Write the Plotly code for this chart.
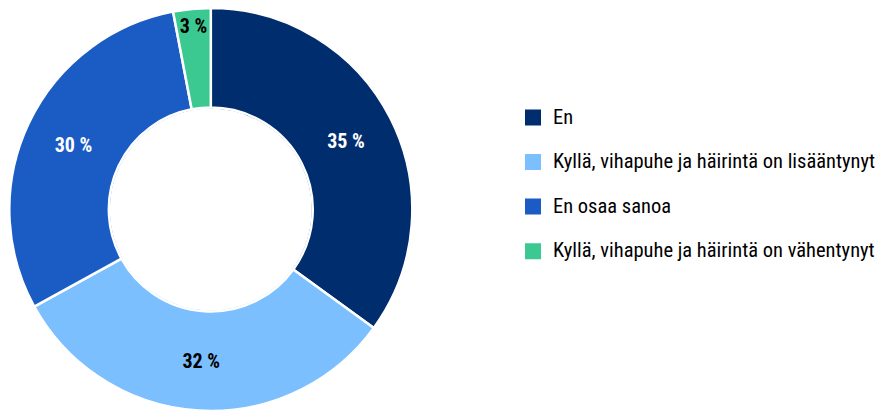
import plotly.graph_objects as go

categories = [
    "En",
    "Kyllä, vihapuhe ja häirintä on lisääntynyt",
    "En osaa sanoa",
    "Kyllä, vihapuhe ja häirintä on vähentynyt",
]
values = [35, 32, 30, 3]
colors = ["#002d6e", "#7cbfff", "#1a5cc4", "#3cc891"]
text_colors = ["#ffffff", "#000000", "#ffffff", "#000000"]

FONT = "Roboto Condensed, Roboto, sans-serif"
W, H = 877, 412

# donut geometry (pixels)
x0, x1, y0, y1 = 9.3, 412.3, 8.0, 411.0
R = (y1 - y0) / 2
HOLE = 0.506

# legend labels: visible text at 20.5px, blank second line for row spacing
legend_labels = ['<span style="font-size:20.5px">%s</span><br> ' % c for c in categories]

fig = go.Figure()

# underlying donut that carries the legend (stroke in slice colour -> larger legend squares)
ins = 2.0
fig.add_trace(
    go.Pie(
        labels=legend_labels,
        values=values,
        sort=False,
        direction="clockwise",
        rotation=0,
        hole=(HOLE * R + 1) / (R - ins),
        marker=dict(colors=colors, line=dict(color=colors, width=4)),
        textinfo="none",
        domain=dict(x=[(x0 + ins) / W, (x1 - ins) / W], y=[1 - (y1 - ins) / H, 1 - (y0 + ins) / H]),
        hoverinfo="skip",
        showlegend=True,
    )
)

# visible donut with white separators and value labels
fig.add_trace(
    go.Pie(
        labels=legend_labels,
        values=values,
        sort=False,
        direction="clockwise",
        rotation=0,
        hole=HOLE,
        marker=dict(colors=colors, line=dict(color="#ffffff", width=2.5)),
        texttemplate="<b>%{value} %</b>",
        textposition="inside",
        insidetextorientation="horizontal",
        textfont=dict(family=FONT, size=20, color=text_colors),
        domain=dict(x=[x0 / W, x1 / W], y=[1 - y1 / H, 1 - y0 / H]),
        hovertemplate="%{value} %<extra></extra>",
        showlegend=False,
    )
)

fig.update_layout(
    width=W,
    height=H,
    margin=dict(l=0, r=0, t=0, b=0, autoexpand=False),
    paper_bgcolor="#ffffff",
    plot_bgcolor="#ffffff",
    font=dict(family=FONT, color="#000000"),
    uniformtext=dict(minsize=20, mode="show"),
    legend=dict(
        x=513 / W,
        xanchor="left",
        y=1 - 100.5 / H,
        yanchor="top",
        font=dict(family=FONT, size=16, color="#000000"),
        valign="top",
        bgcolor="rgba(0,0,0,0)",
        borderwidth=0,
    ),
)

fig.write_html(
    "out.html",
    config={"displayModeBar": False},
    post_script="document.body.style.margin='0';document.body.style.overflow='hidden';",
)
